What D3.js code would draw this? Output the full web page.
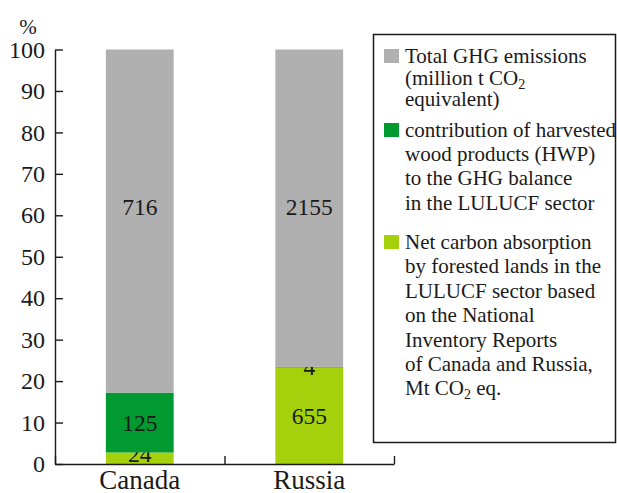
<!DOCTYPE html>
<html>
<head>
<meta charset="utf-8">
<script src="https://cdn.jsdelivr.net/npm/d3@7"></script>
<style>
  body { margin: 0; background: #fff; }
  svg text { font-family: "Liberation Serif", "DejaVu Serif", serif; fill: #1a1a1a; }
</style>
</head>
<body>
<svg id="chart" width="617" height="493"></svg>
<script>
// data
var categories = ["Canada", "Russia"];
var netAbsorption = [24, 655];      // light green, bottom
var hwpContribution = [125, 4];     // dark green, middle
var totalEmissions = [716, 2155];   // grey, top
var yTicks = [0, 10, 20, 30, 40, 50, 60, 70, 80, 90, 100];

var legendItems = [
  ["Total GHG emissions", "(million t CO_2", "equivalent)"],
  ["contribution of harvested", "wood products (HWP)", "to the GHG balance", "in the LULUCF sector"],
  ["Net carbon absorption", "by forested lands in the", "LULUCF sector based", "on the National", "Inventory Reports", "of Canada and Russia,", "Mt CO_2 eq."]
];

var keys = ["total", "hwp", "absorption"];
var colors = { absorption: "#a4d00c", hwp: "#009a31", total: "#b0b0b0" };

var rows = categories.map(function(c, i) {
  return { name: c, absorption: netAbsorption[i], hwp: hwpContribution[i], total: totalEmissions[i] };
});

var svg = d3.select("#chart");

// plot edges ("top" is taken by window.top, so use other names)
var plotLeft = 55, plotRight = 394, plotTop = 49.5, plotBottom = 464;

var y = d3.scaleLinear().domain([0, 100]).range([plotBottom, plotTop]);

var x = d3.scaleBand()
    .domain(categories)
    .range([plotLeft, plotRight])
    .paddingInner(0.6)
    .paddingOuter(0.3);

// edges of the category slots, for the x-axis ticks
var xEdge = d3.scaleLinear().domain([0, categories.length]).range([plotLeft, plotRight]);

// stacked to 100 %
var stack = d3.stack()
    .keys(["absorption", "hwp", "total"])
    .offset(d3.stackOffsetExpand);
var series = stack(rows);

var layer = svg.selectAll("g.layer")
  .data(series)
  .enter().append("g")
    .attr("class", "layer")
    .attr("fill", function(d) { return colors[d.key]; });

layer.selectAll("rect")
  .data(function(d) { return d; })
  .enter().append("rect")
    .attr("x", function(d) { return x(d.data.name); })
    .attr("width", x.bandwidth())
    .attr("y", function(d) { return y(d[1] * 100); })
    .attr("height", function(d) { return y(d[0] * 100) - y(d[1] * 100); });

// value labels inside the bars
layer.selectAll("text")
  .data(function(d) { return d.map(function(p) { p.key = d.key; return p; }); })
  .enter().append("text")
    .attr("x", function(d) { return x(d.data.name) + x.bandwidth() / 2; })
    .attr("y", function(d) {
      var mid = (d[0] + d[1]) / 2 * 100;
      if (d.key == "total") mid = 62;        // grey labels sit a bit high
      return y(Math.max(mid, 2.4));
    })
    .attr("dy", "0.35em")
    .attr("text-anchor", "middle")
    .style("font-size", "23.5px")
    .style("fill", "#1a1a1a")
    .text(function(d) { return d.data[d.key]; });

// y axis, ticks pointing inward
var yAxis = svg.append("g")
    .attr("transform", "translate(" + plotLeft + ",0)")
    .call(d3.axisLeft(y).tickValues(yTicks).tickSize(-8).tickSizeOuter(0).tickPadding(10));

// x axis: ticks at the slot edges, labels at the bar centres
var xAxis = svg.append("g")
    .attr("transform", "translate(0," + plotBottom + ")")
    .call(d3.axisBottom(xEdge).tickValues(d3.range(categories.length + 1)).tickSize(-8).tickSizeOuter(0).tickFormat(""));

svg.selectAll(".domain, .tick line")
    .attr("stroke", "#1a1a1a")
    .attr("stroke-width", 1.4);
yAxis.selectAll(".tick text")
    .style("font-size", "24px")
    .attr("fill", "#1a1a1a")
    .style("font-family", "Liberation Serif, serif");

svg.append("g").selectAll("text")
  .data(categories)
  .enter().append("text")
    .attr("x", function(d) { return x(d) + x.bandwidth() / 2; })
    .attr("y", 489)
    .attr("text-anchor", "middle")
    .style("font-size", "27px")
    .text(function(d) { return d; });

svg.append("text")
    .attr("x", 28)
    .attr("y", 34)
    .attr("text-anchor", "middle")
    .style("font-size", "21px")
    .text("%");

// legend
svg.append("rect")
    .attr("x", 373.5)
    .attr("y", 34.5)
    .attr("width", 242)
    .attr("height", 408)
    .attr("fill", "none")
    .attr("stroke", "#1a1a1a")
    .attr("stroke-width", 1.5);

var legendTop = [63, 137, 249];
var legendStep = [21.5, 24.2, 24.4];

var lg = svg.append("g").selectAll("g")
  .data(legendItems)
  .enter().append("g");

lg.append("rect")
    .attr("x", 384)
    .attr("y", function(d, i) { return legendTop[i] - 14; })
    .attr("width", 15)
    .attr("height", 14)
    .attr("fill", function(d, i) { return colors[keys[i]]; });

lg.each(function(lines, i) {
  var t = d3.select(this).append("text")
      .style("font-size", "21px");
  lines.forEach(function(line, j) {
    var parts = line.split("_");
    var baseY = legendTop[i] + j * legendStep[i];
    t.append("tspan")
        .attr("x", 405)
        .attr("y", baseY)
        .text(parts[0]);
    if (parts.length > 1) {
      t.append("tspan")
          .attr("y", baseY + 4)
          .style("font-size", "14px")
          .text(parts[1].charAt(0));
      if (parts[1].length > 1) {
        t.append("tspan")
            .attr("y", baseY)
            .text(parts[1].slice(1));
      }
    }
  });
});
</script>
</body>
</html>
